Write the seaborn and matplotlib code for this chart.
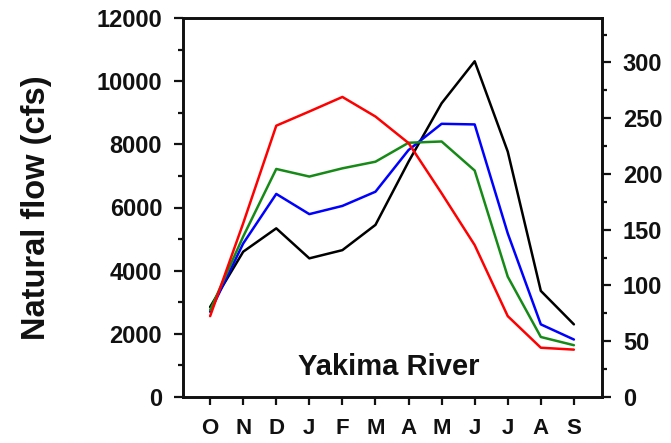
import numpy as np
import pandas as pd
import matplotlib
matplotlib.use("Agg")
import matplotlib.pyplot as plt
from matplotlib.ticker import MultipleLocator
import seaborn as sns

months = ["O", "N", "D", "J", "F", "M", "A", "M", "J", "J", "A", "S"]
black_vals = [2850, 4600, 5340, 4390, 4650, 5450, 7450, 9300, 10630, 7770, 3360, 2300]
blue_vals = [2700, 4860, 6430, 5790, 6050, 6500, 7820, 8650, 8630, 5180, 2300, 1820]
green_vals = [2750, 5080, 7220, 6980, 7240, 7450, 8050, 8090, 7170, 3810, 1900, 1640]
red_vals = [2560, 5500, 8590, 9040, 9500, 8880, 8040, 6450, 4810, 2560, 1560, 1500]
series_names = ["black", "blue", "green", "red"]
series_colors = ["#000000", "#0000ff", "#168a16", "#ff0000"]
CFS_TO_CMS = 0.0283168

sns.set_style("ticks")
plt.rcParams["font.family"] = ["Liberation Sans", "DejaVu Sans"]
plt.rcParams["font.weight"] = "bold"
plt.rcParams["text.color"] = "#111111"
plt.rcParams["xtick.color"] = "#111111"
plt.rcParams["ytick.color"] = "#111111"
plt.rcParams["axes.edgecolor"] = "#111111"

idx = np.arange(len(months))
frames = []
for name, vals in zip(series_names, [black_vals, blue_vals, green_vals, red_vals]):
    frames.append(pd.DataFrame({"x": idx, "flow": vals, "series": name}))
df = pd.concat(frames, ignore_index=True)

fig = plt.figure(figsize=(6.71, 4.43), dpi=100)
ax = fig.add_axes([183 / 671, 1 - 397 / 443, (602 - 183) / 671, (397 - 18) / 443])
sns.lineplot(data=df, x="x", y="flow", hue="series", palette=dict(zip(series_names, series_colors)),
             hue_order=series_names, linewidth=1.8, legend=False, ax=ax, sort=False)

ax.set_xlim(-0.82, 11.85)
ax.set_ylim(0, 12000)
ax.set_xticks(idx)
ax.set_xticklabels(months, fontsize=16, fontweight="bold")
ax.yaxis.set_major_locator(MultipleLocator(2000))
ax.yaxis.set_minor_locator(MultipleLocator(1000))
ax.tick_params(axis="y", which="major", labelsize=17, length=6.5, width=1.6, direction="out", pad=8.5)
ax.tick_params(axis="y", which="minor", length=3.5, width=1.6, direction="out")
ax.tick_params(axis="x", which="major", length=6, width=1.6, direction="out", pad=9)
for lab in ax.get_yticklabels():
    lab.set_fontweight("bold")
ax.set_xlabel("")
ax.set_ylabel("")
for s in ax.spines.values():
    s.set_visible(True)
    s.set_linewidth(1.9)

ax2 = ax.twinx()
ax2.set_ylim(0, 12000 * CFS_TO_CMS)
ax2.yaxis.set_major_locator(MultipleLocator(50))
ax2.yaxis.set_minor_locator(MultipleLocator(25))
ax2.tick_params(axis="y", which="major", labelsize=17, length=6.5, width=1.6, direction="out", pad=8.5)
ax2.tick_params(axis="y", which="minor", length=3.5, width=1.6, direction="out")
for lab in ax2.get_yticklabels():
    lab.set_fontweight("bold")
for s in ax2.spines.values():
    s.set_linewidth(1.9)

ax.text(0.49, 0.078, "Yakima River", transform=ax.transAxes, ha="center", va="center",
        fontsize=21, fontweight="bold")
fig.text(37 / 671, 1 - 208 / 443, "Natural flow (cfs)", rotation=90, ha="center", va="center",
         fontsize=23.5, fontweight="bold")

fig.savefig("out.png", dpi=100)
